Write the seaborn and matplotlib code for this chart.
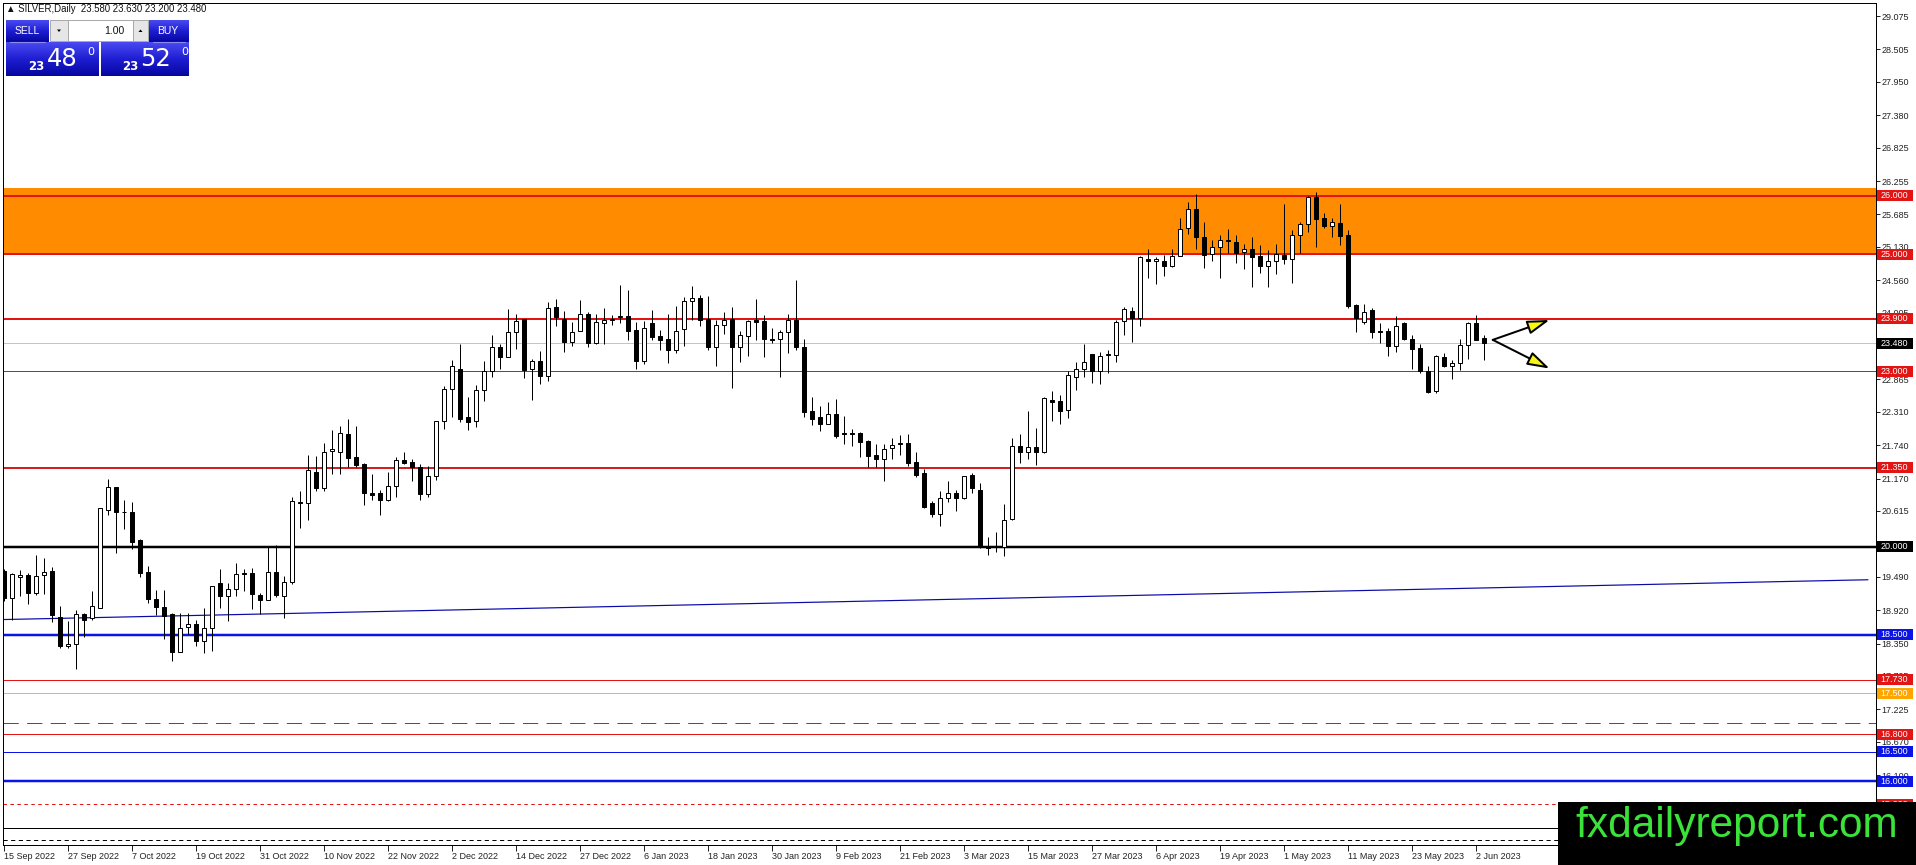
import numpy as np
import pandas as pd
import seaborn as sns
import matplotlib.pyplot as plt
from matplotlib.colors import LinearSegmentedColormap
from matplotlib.patches import Rectangle, Polygon

# Daily SILVER candles, 15 Sep 2022 .. 5 Jun 2023
opens = [19.59, 19.12, 19.48, 19.52, 19.22, 19.52, 19.59, 18.80, 18.30, 18.35,
         18.85, 18.78, 18.96, 20.64, 21.02, 20.60, 20.60, 20.12, 19.57, 19.11,
         18.97, 18.85, 18.20, 18.63, 18.68, 18.40, 18.61, 19.38, 19.17, 19.29,
         19.56, 19.55, 19.18, 19.10, 19.58, 19.17, 19.40, 20.77, 20.75, 21.29,
         21.00, 21.64, 21.63, 21.93, 21.53, 21.42, 20.92, 20.92, 20.80, 21.04,
         21.48, 21.45, 21.36, 20.90, 21.21, 22.15, 22.70, 23.05, 22.22, 22.15,
         22.69, 23.00, 23.42, 23.25, 23.67, 23.89, 23.04, 23.18, 22.93, 24.10,
         23.89, 23.50, 23.70, 23.99, 23.48, 23.83, 23.88, 23.93, 23.94, 23.71,
         23.18, 23.82, 23.60, 23.55, 23.36, 23.72, 24.21, 24.25, 23.89, 23.41,
         23.79, 23.89, 23.41, 23.61, 23.88, 23.86, 23.55, 23.55, 23.67, 23.88,
         23.41, 22.32, 22.22, 22.11, 22.27, 21.94, 21.95, 21.94, 21.81, 21.57,
         21.51, 21.69, 21.76, 21.77, 21.46, 21.26, 20.75, 20.56, 20.84, 20.93,
         20.83, 21.23, 20.98, 20.02, 20.00, 20.00, 20.47, 21.73, 21.63, 21.71,
         21.63, 22.51, 22.49, 22.34, 22.91, 23.04, 23.30, 23.01, 23.28, 23.28,
         23.86, 24.04, 23.92, 24.93, 24.89, 24.89, 24.81, 24.98, 25.45, 25.77,
         25.30, 25.01, 25.13, 25.25, 25.22, 25.04, 25.10, 24.97, 24.81, 24.89,
         24.99, 24.93, 25.33, 25.52, 25.99, 25.63, 25.49, 25.54, 25.33, 24.13,
         23.85, 24.05, 23.69, 23.69, 23.44, 23.82, 23.56, 23.40, 23.00, 22.67,
         23.25, 23.10, 23.14, 23.46, 23.82, 23.58]
highs = [19.62, 19.56, 19.61, 19.55, 19.86, 19.82, 19.66, 18.99, 18.74, 18.92,
         18.88, 19.25, 20.67, 21.17, 21.03, 20.81, 20.77, 20.14, 19.68, 19.26,
         19.26, 18.87, 18.88, 18.87, 18.75, 18.95, 19.34, 19.62, 19.38, 19.72,
         19.62, 19.64, 19.21, 20.00, 20.03, 19.50, 20.85, 20.96, 21.57, 21.56,
         21.77, 22.00, 22.06, 22.19, 22.07, 21.43, 21.25, 20.97, 21.29, 21.53,
         21.62, 21.50, 21.41, 21.39, 22.15, 22.75, 23.20, 23.47, 22.57, 22.77,
         23.18, 23.62, 23.47, 24.06, 23.98, 23.89, 23.22, 23.35, 24.18, 24.24,
         24.03, 23.85, 24.22, 24.01, 23.99, 24.08, 23.96, 24.48, 24.39, 23.85,
         23.87, 24.05, 23.71, 23.98, 24.12, 24.27, 24.46, 24.31, 24.29, 23.88,
         24.01, 24.10, 23.69, 23.88, 24.24, 23.97, 23.74, 23.71, 23.98, 24.56,
         23.55, 22.57, 22.41, 22.47, 22.53, 22.24, 22.01, 21.96, 21.83, 21.76,
         21.76, 21.86, 21.92, 21.93, 21.63, 21.33, 20.79, 20.95, 21.12, 20.97,
         21.22, 21.26, 21.09, 20.17, 20.25, 20.73, 21.87, 21.93, 22.33, 22.04,
         22.56, 22.67, 22.59, 23.01, 23.17, 23.47, 23.30, 23.33, 23.37, 23.88,
         24.11, 24.11, 24.97, 25.09, 24.96, 24.99, 25.09, 25.62, 25.90, 26.03,
         25.56, 25.25, 25.33, 25.43, 25.33, 25.17, 25.29, 25.16, 25.08, 25.18,
         25.86, 25.41, 25.56, 26.00, 26.07, 25.70, 25.63, 25.86, 25.41, 24.15,
         24.15, 24.08, 23.82, 23.74, 23.95, 23.84, 23.62, 23.47, 23.09, 23.28,
         23.31, 23.20, 23.55, 23.85, 23.97, 23.63]
lows = [19.07, 18.75, 19.17, 19.02, 19.18, 19.20, 18.72, 18.28, 18.28, 17.92,
        18.46, 18.75, 18.95, 20.55, 19.90, 20.31, 19.96, 19.49, 19.04, 18.83,
        18.42, 18.05, 18.20, 18.51, 18.31, 18.18, 18.23, 18.96, 18.74, 19.17,
        19.24, 18.94, 18.85, 19.10, 19.15, 18.79, 19.37, 20.33, 20.46, 20.95,
        20.95, 21.24, 21.25, 21.37, 21.37, 20.72, 20.80, 20.54, 20.79, 20.86,
        21.41, 21.12, 20.81, 20.86, 21.15, 22.01, 22.23, 22.14, 22.00, 22.05,
        22.50, 22.90, 23.04, 23.24, 23.38, 22.89, 22.51, 22.79, 22.84, 23.77,
        23.33, 23.44, 23.70, 23.41, 23.47, 23.47, 23.80, 23.82, 23.53, 23.04,
        23.13, 23.53, 23.36, 23.15, 23.31, 23.44, 23.88, 23.77, 23.36, 23.10,
        23.64, 22.71, 23.16, 23.27, 23.54, 23.24, 23.48, 22.91, 23.31, 23.37,
        22.23, 22.08, 21.99, 22.11, 21.86, 21.76, 21.73, 21.54, 21.36, 21.36,
        21.12, 21.50, 21.58, 21.38, 21.20, 20.67, 20.51, 20.36, 20.77, 20.62,
        20.82, 20.92, 19.99, 19.86, 19.92, 19.85, 20.46, 21.44, 21.50, 21.40,
        21.60, 22.16, 22.10, 22.21, 22.69, 22.91, 22.80, 22.78, 22.98, 23.17,
        23.63, 23.51, 23.77, 24.59, 24.49, 24.63, 24.78, 24.98, 25.35, 25.10,
        24.76, 24.88, 24.59, 25.02, 24.85, 24.75, 24.44, 24.68, 24.45, 24.67,
        24.83, 24.52, 25.02, 25.39, 25.12, 25.45, 25.30, 25.16, 24.08, 23.68,
        23.81, 23.58, 23.48, 23.27, 23.34, 23.54, 23.05, 22.97, 22.63, 22.63,
        23.08, 22.87, 23.02, 23.22, 23.53, 23.20]
closes = [19.12, 19.53, 19.52, 19.22, 19.50, 19.58, 18.83, 18.31, 18.35, 18.85,
          18.76, 18.99, 20.66, 21.02, 20.59, 20.59, 20.09, 19.55, 19.11, 18.97,
          18.82, 18.21, 18.61, 18.68, 18.40, 18.62, 19.34, 19.17, 19.29, 19.53,
          19.53, 19.20, 19.10, 19.58, 19.18, 19.41, 20.79, 20.75, 21.32, 21.00,
          21.62, 21.67, 21.94, 21.52, 21.40, 20.92, 20.89, 20.80, 21.04, 21.48,
          21.44, 21.37, 20.90, 21.21, 22.15, 22.70, 23.10, 22.19, 22.14, 22.68,
          23.00, 23.41, 23.25, 23.67, 23.86, 23.03, 23.18, 22.93, 24.08, 23.93,
          23.51, 23.67, 23.99, 23.48, 23.85, 23.88, 23.89, 23.94, 23.70, 23.18,
          23.75, 23.59, 23.53, 23.36, 23.70, 24.20, 24.25, 23.88, 23.41, 23.79,
          23.88, 23.41, 23.62, 23.86, 23.85, 23.56, 23.53, 23.67, 23.88, 23.41,
          22.30, 22.19, 22.10, 22.27, 21.90, 21.93, 21.93, 21.80, 21.56, 21.51,
          21.67, 21.75, 21.78, 21.44, 21.23, 20.69, 20.56, 20.84, 20.93, 20.83,
          21.21, 21.00, 20.00, 19.99, 20.01, 20.46, 21.73, 21.63, 21.71, 21.63,
          22.54, 22.47, 22.33, 22.94, 23.04, 23.17, 23.01, 23.26, 23.30, 23.84,
          24.06, 23.92, 24.95, 24.88, 24.92, 24.81, 24.98, 25.43, 25.77, 25.29,
          24.99, 25.12, 25.24, 25.23, 25.03, 25.10, 24.95, 24.81, 24.89, 25.01,
          24.93, 25.33, 25.52, 25.98, 25.60, 25.49, 25.55, 25.32, 24.12, 23.91,
          24.02, 23.68, 23.67, 23.44, 23.78, 23.55, 23.38, 23.00, 22.65, 23.26,
          23.10, 23.14, 23.46, 23.82, 23.54, 23.48]

date_ticks = ["15 Sep 2022", "27 Sep 2022", "7 Oct 2022", "19 Oct 2022", "31 Oct 2022",
              "10 Nov 2022", "22 Nov 2022", "2 Dec 2022", "14 Dec 2022", "27 Dec 2022",
              "6 Jan 2023", "18 Jan 2023", "30 Jan 2023", "9 Feb 2023", "21 Feb 2023",
              "3 Mar 2023", "15 Mar 2023", "27 Mar 2023", "6 Apr 2023", "19 Apr 2023",
              "1 May 2023", "11 May 2023", "23 May 2023", "2 Jun 2023"]
price_ticks = [29.075, 28.505, 27.950, 27.380, 26.825, 26.255, 25.685, 25.130, 24.560,
               24.005, 23.450, 22.865, 22.310, 21.740, 21.170, 20.615, 20.045, 19.490,
               18.920, 18.350, 17.795, 17.225, 16.670, 16.100, 15.530]

# horizontal levels drawn on the chart
levels = [26.0, 25.0, 23.9, 23.48, 23.0, 21.35, 20.0, 18.5, 17.73, 17.5,
          17.0, 16.8, 16.5, 16.0, 15.6, 15.2, 15.0]
zone = (25.0, 26.13)
trend_x = [0, 233]
trend_y = [18.76, 19.44]
arrow_from = (186.1, 23.54)
arrow_to = [(193.2, 23.88), (193.2, 23.05)]
last_bar = (23.580, 23.630, 23.200, 23.480)
bid, ask = "48", "52"

# line styles per level: colour, width (px), dash, label box colour
RED, BLUE = "#E31414", "#0A14E6"
level_style = {
    26.0: (RED, 2, "-", RED), 25.0: (RED, 2, "-", RED), 23.9: (RED, 2, "-", RED),
    23.48: ("#C4C4C4", 1, "-", "#000000"), 23.0: (RED, 1, "-", RED),
    21.35: ("#D22020", 2, "-", RED), 20.0: ("#000000", 2.5, "-", "#000000"),
    18.5: (BLUE, 2.5, "-", BLUE), 17.73: (RED, 1, "-", RED),
    17.5: ("#F2B544", 1, "-", "#FFA500"), 17.0: (RED, 1, (0, (11, 6)), None),
    16.8: (RED, 1, "-", RED), 16.5: (BLUE, 1, "-", BLUE), 16.0: (BLUE, 2.5, "-", BLUE),
    15.6: (RED, 1, (0, (2.5, 2.5)), RED), 15.2: ("#000000", 1, "-", None),
    15.0: ("#000000", 1, (0, (3, 2.5)), None),
}

W, H, DPI = 1916, 865, 100
PX = 72.0 / DPI

sns.set_theme(style="white")
plt.rcParams["font.family"] = ["Liberation Sans", "DejaVu Sans"]
plt.rcParams["lines.scale_dashes"] = False

df = pd.DataFrame({"open": opens, "high": highs, "low": lows, "close": closes})
df["x"] = np.arange(len(df))
up = df["close"] >= df["open"]

fig = plt.figure(figsize=(W / DPI, H / DPI), dpi=DPI, facecolor="white")
ax = fig.add_axes([2.5 / W, (H - 844.5) / H, 1873 / W, 842 / H])
ax.set_facecolor("white")
ax.set_xlim(-0.1875, 233.94)
ax.set_ylim(14.915, 29.306)

# resistance zone
ax.axhspan(zone[0], zone[1], color="#FF8C00", lw=0, zorder=1)

for v in levels:
    col, w, ls, box = level_style[v]
    ax.axhline(v, color=col, lw=w * PX, ls=ls, zorder=2)

sns.lineplot(x=trend_x, y=trend_y, ax=ax, color="#0A0AA8", lw=1.2 * PX, zorder=2)

# candles
ax.vlines(df["x"], df["low"], df["high"], color="black", lw=1 * PX, zorder=3)
ax.bar(df["x"][up], (df["close"] - df["open"])[up], bottom=df["open"][up], width=0.62,
       color="white", edgecolor="black", lw=1 * PX, zorder=4)
ax.bar(df["x"][~up], (df["open"] - df["close"])[~up], bottom=df["close"][~up], width=0.62,
       color="black", edgecolor="black", lw=1 * PX, zorder=4)

# forecast arrows
for end in arrow_to:
    ax.annotate("", xy=end, xytext=arrow_from,
                arrowprops=dict(arrowstyle="-|>,head_length=1.35,head_width=0.42",
                                fc="#F5F516", ec="black", lw=2 * PX, mutation_scale=10,
                                shrinkA=0, shrinkB=0), zorder=5)

# axes
for s in ax.spines.values():
    s.set_color("black")
    s.set_linewidth(1 * PX)
ax.yaxis.tick_right()
ax.set_yticks(price_ticks)
ax.set_yticklabels([f"{v:.3f}" for v in price_ticks])
ax.set_xticks(range(0, 8 * len(date_ticks), 8))
ax.set_xticklabels(date_ticks)
for lab in ax.get_xticklabels():
    lab.set_horizontalalignment("left")
ax.tick_params(axis="y", direction="out", length=3 * PX * 1.389, width=1 * PX, pad=1.5,
               labelsize=6.5, colors="#222222", left=False, right=True)
ax.tick_params(axis="x", direction="out", length=4, width=1 * PX, pad=1.5,
               labelsize=6.5, colors="#222222", bottom=True)
ax.grid(False)
ax.set_xlabel("")
ax.set_ylabel("")

# price labels on the right
ytrans = ax.get_yaxis_transform()
aw = 1873.0
for v in levels:
    box = level_style[v][3]
    if box is None:
        continue
    ax.add_patch(Rectangle((1 + 1.5 / aw, v - 0.094), 36.5 / aw, 0.188, transform=ytrans,
                           fc=box, ec="none", clip_on=False, zorder=6))
    ax.text(1 + 5 / aw, v, f"{v:.3f}", transform=ytrans, color="white", fontsize=6.5,
            va="center", ha="left", clip_on=False, zorder=7)

# overlay: header, trade panel, watermark (pixel coordinates)
ov = fig.add_axes([0, 0, 1, 1], zorder=10)
ov.set_xlim(0, W)
ov.set_ylim(H, 0)
ov.axis("off")
ov.patch.set_alpha(0)

o, h, l, c = last_bar
ov.text(6, 9.5, f"\u25B2 SILVER,Daily  {o:.3f} {h:.3f} {l:.3f} {c:.3f}", fontsize=6.9,
        color="#111111", va="center", ha="left")

grad = LinearSegmentedColormap.from_list("mt4", ["#4A4AF2", "#1E1ED2", "#0606A0"])
g = np.linspace(0, 1, 64).reshape(-1, 1)


def blue_box(x0, x1, y0, y1):
    ov.imshow(g, cmap=grad, extent=(x0, x1, y1, y0), aspect="auto", zorder=1,
              interpolation="bilinear")


blue_box(6, 49, 20, 42)
blue_box(149, 189, 20, 42)
blue_box(6, 99, 42, 76)
blue_box(101, 189, 42, 76)
ov.plot([10, 45], [41.5, 41.5], color="#8C8CF0", lw=0.8, zorder=2)
ov.plot([153, 185], [41.5, 41.5], color="#8C8CF0", lw=0.8, zorder=2)
# lot size spinner
ov.add_patch(Rectangle((50, 20), 18, 21, fc="#E6E6E6", ec="#A8A8A8", lw=0.7, zorder=2))
ov.add_patch(Rectangle((68, 20), 65, 21, fc="white", ec="#A8A8A8", lw=0.7, zorder=2))
ov.add_patch(Rectangle((133, 20), 15, 21, fc="#E6E6E6", ec="#A8A8A8", lw=0.7, zorder=2))
ov.add_patch(Polygon([[57, 29.5], [61, 29.5], [59, 32]], fc="black", ec="none", zorder=3))
ov.add_patch(Polygon([[138.5, 32], [142.5, 32], [140.5, 29.5]], fc="black", ec="none", zorder=3))
ov.text(124, 31, "1.00", fontsize=7.5, color="#111111", ha="right", va="center", zorder=3)
ov.text(27.5, 31.5, "SELL", fontsize=7.5, color="white", ha="center", va="center", zorder=3)
ov.text(168, 31.5, "BUY", fontsize=7.5, color="white", ha="center", va="center", zorder=3)
for cx, big in ((0, bid), (94, ask)):
    ov.text(36.5 + cx, 67, "23", fontsize=8.5, fontweight="bold", color="white",
            ha="center", va="center", family="DejaVu Sans", zorder=3)
    ov.text(62 + cx, 58.5, big, fontsize=17.5, color="white", ha="center", va="center",
            family="DejaVu Sans", zorder=3)
    ov.text(90.5 + cx, 52, "0", fontsize=8, color="white", ha="center", va="center",
            family="DejaVu Sans", zorder=3)

# watermark
ov.add_patch(Rectangle((1558, 802), W - 1558, H - 802, fc="black", ec="none", zorder=4))
ov.text(1737, 826, "fxdailyreport.com", fontsize=30.5, color="#3AE23A",
        ha="center", va="center", zorder=5)

fig.savefig("out.png", dpi=DPI)
